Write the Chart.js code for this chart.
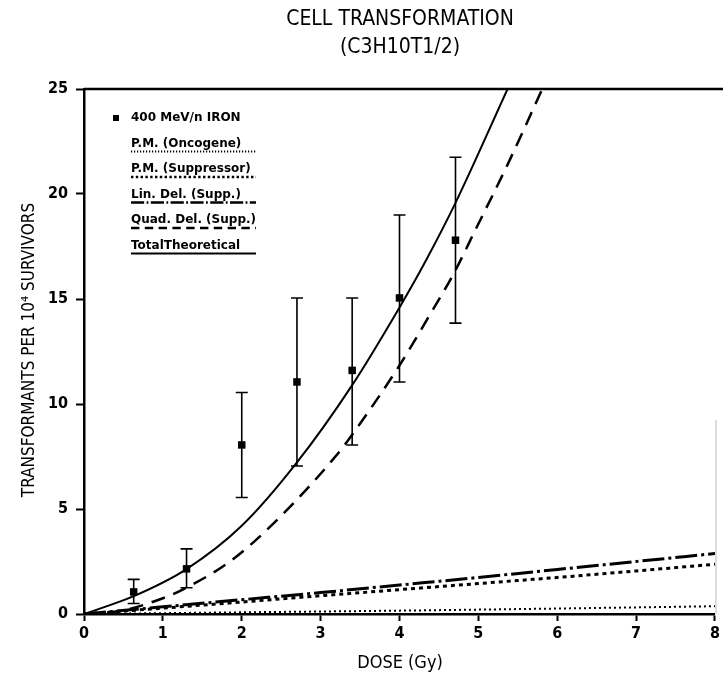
<!DOCTYPE html>
<html><head><meta charset="utf-8">
<script src="https://cdn.jsdelivr.net/npm/chart.js@4/dist/chart.umd.min.js"></script>
<style>html,body{margin:0;padding:0;background:#fff}#wrap{width:723px;height:680px}</style>
</head><body><div id="wrap"><canvas id="c" width="723" height="680"></canvas></div>
<script>
const FONT = "'Liberation Sans Narrow','DejaVu Sans Condensed','Liberation Sans',sans-serif";
const LEGEND_FONT = "'DejaVu Sans','Liberation Sans',sans-serif";
const titleLines = ["CELL TRANSFORMATION", "(C3H10T1/2)"];
const xTitle = "DOSE (Gy)";
const yTitle = "TRANSFORMANTS PER 10\u2074 SURVIVORS";
const xTickStep = 1, xMin = 0, xMax = 8;
const yTickStep = 5, yMin = 0, yMax = 25;

// measured points: 400 MeV/n iron
const ironLabel = "400 MeV/n IRON";
const ironDose  = [0.63, 1.30, 2.00, 2.70, 3.40, 4.00, 4.71];
const ironValue = [1.05, 2.15, 8.05, 11.05, 11.60, 15.05, 17.80];
const ironLow   = [0.50, 1.25, 5.55, 7.05, 8.05, 11.05, 13.85];
const ironHigh  = [1.65, 3.10, 10.55, 15.05, 15.05, 19.00, 21.75];

// theoretical curves
const oncLabel = "P.M. (Oncogene)";
const oncDose  = [0, 2, 4, 6, 8];
const oncValue = [0, 0.08, 0.16, 0.26, 0.37];

const supLabel = "P.M. (Suppressor)";
const supDose  = [0, 1, 2, 3, 4, 5, 6, 7, 8];
const supValue = [0, 0.28, 0.57, 0.87, 1.16, 1.45, 1.74, 2.05, 2.37];

const linLabel = "Lin. Del. (Supp.)";
const linDose  = [0, 1, 2, 3, 4, 5, 6, 7, 8];
const linValue = [0, 0.34, 0.68, 1.02, 1.38, 1.74, 2.12, 2.50, 2.88];

const quadLabel = "Quad. Del. (Supp.)";
const quadDose  = [0, 0.5, 1.0, 1.27, 1.85, 2.41, 3.19, 3.40, 3.99, 4.33, 4.70, 4.95, 5.37, 5.81];
const quadValue = [0, 0.18, 0.75, 1.20, 2.50, 4.34, 7.51, 8.54, 11.78, 13.90, 16.30, 18.20, 21.40, 25.00];

const totLabel = "TotalTheoretical";
const totDose  = [0, 0.63, 1.30, 2.00, 2.69, 3.40, 4.00, 4.33, 4.71, 5.37];
const totValue = [0, 0.85, 2.14, 4.20, 7.17, 10.90, 14.60, 16.80, 19.58, 25.00];

const pts = (xs, ys) => xs.map((x, i) => ({x: x, y: ys[i]}));

function lineDs(label, xs, ys, width, dash) {
  return {
    label: label, data: pts(xs, ys), showLine: true, borderColor: '#000',
    backgroundColor: '#000', borderWidth: width, borderDash: dash,
    borderCapStyle: 'butt', pointRadius: 0, pointHoverRadius: 0,
    cubicInterpolationMode: 'monotone', fill: false
  };
}

const datasets = [
  {label: ironLabel, data: pts(ironDose, ironValue), showLine: false,
   pointStyle: 'rect', pointRadius: 5.3, borderWidth: 0, backgroundColor: '#000', borderColor: '#000',
   low: ironLow, high: ironHigh, isData: true},
  lineDs(oncLabel, oncDose, oncValue, 2, [2, 3]),
  lineDs(supLabel, supDose, supValue, 3, [4, 4]),
  lineDs(linLabel, linDose, linValue, 3, [22, 4, 3, 4]),
  lineDs(quadLabel, quadDose, quadValue, 2.5, [14, 9]),
  lineDs(totLabel, totDose, totValue, 2, [])
];

const errorBars = {
  id: 'errorBars',
  afterDatasetsDraw(chart) {
    const ctx = chart.ctx, xs = chart.scales.x, ys = chart.scales.y;
    chart.data.datasets.forEach(ds => {
      if (!ds.isData) return;
      ctx.save();
      ctx.strokeStyle = '#000'; ctx.lineWidth = 1.6;
      ds.data.forEach((p, i) => {
        const px = xs.getPixelForValue(p.x);
        const y1 = ys.getPixelForValue(ds.low[i]);
        const y2 = ys.getPixelForValue(ds.high[i]);
        ctx.beginPath();
        ctx.moveTo(px, y1); ctx.lineTo(px, y2);
        ctx.moveTo(px - 6, y1); ctx.lineTo(px + 6, y1);
        ctx.moveTo(px - 6, y2); ctx.lineTo(px + 6, y2);
        ctx.stroke();
      });
      ctx.restore();
    });
  }
};

const decor = {
  id: 'decor',
  afterDraw(chart) {
    const ctx = chart.ctx, a = chart.chartArea;
    ctx.save();
    // top frame line
    ctx.strokeStyle = '#000'; ctx.lineWidth = 2.5;
    ctx.beginPath(); ctx.moveTo(a.left, a.top); ctx.lineTo(723, a.top); ctx.stroke();
    // faint right edge
    ctx.strokeStyle = '#bbb'; ctx.lineWidth = 1;
    ctx.beginPath(); ctx.moveTo(a.right + 1, 420); ctx.lineTo(a.right + 1, a.bottom); ctx.stroke();
    // titles
    ctx.fillStyle = '#000'; ctx.textAlign = 'center'; ctx.textBaseline = 'middle';
    ctx.font = '21px ' + FONT;
    ctx.fillText(titleLines[0], 400, 20);
    ctx.fillText(titleLines[1], 400, 48);
    ctx.font = '18px ' + FONT;
    ctx.fillText(xTitle, 400, 663);
    ctx.save();
    ctx.translate(30, 350); ctx.rotate(-Math.PI / 2);
    ctx.font = '17px ' + FONT;
    ctx.fillText(yTitle, 0, 0);
    ctx.restore();
    // legend
    const lx = 131, ly0 = 118, dy = 25.5, lineEnd = 256;
    ctx.font = 'bold 12px ' + LEGEND_FONT;
    ctx.textAlign = 'left';
    chart.data.datasets.forEach((ds, i) => {
      const y = ly0 + i * dy;
      ctx.fillStyle = '#000';
      ctx.fillText(ds.label, lx, y);
      if (ds.isData) {
        ctx.fillRect(113, y - 3, 6, 6);
      } else {
        ctx.save();
        ctx.strokeStyle = '#000'; ctx.lineWidth = Math.min(ds.borderWidth, 2.5);
        ctx.setLineDash(ds.borderDash.map(v => v * 0.6));
        ctx.beginPath(); ctx.moveTo(lx, y + 8); ctx.lineTo(lineEnd, y + 8); ctx.stroke();
        ctx.restore();
      }
    });
    ctx.restore();
  }
};

new Chart(document.getElementById('c'), {
  type: 'scatter',
  data: {datasets: datasets},
  options: {
    responsive: false, animation: false, devicePixelRatio: 1,
    layout: {padding: {top: 89, right: 3, left: 0, bottom: 0}},
    plugins: {legend: {display: false}, title: {display: false}, tooltip: {enabled: false}},
    scales: {
      x: {
        type: 'linear', min: xMin, max: xMax,
        afterFit: s => { s.height = 66; },
        ticks: {stepSize: xTickStep, color: '#000', font: {family: FONT, size: 16, weight: 'bold'}, padding: 3, maxRotation: 0},
        grid: {drawOnChartArea: false, color: '#000', tickLength: 7, tickWidth: 2},
        border: {color: '#000', width: 2.5}
      },
      y: {
        type: 'linear', min: yMin, max: yMax,
        afterFit: s => { s.width = 84; },
        ticks: {stepSize: yTickStep, color: '#000', font: {family: FONT, size: 16, weight: 'bold'}, padding: 8},
        grid: {drawOnChartArea: false, color: '#000', tickLength: 8, tickWidth: 2},
        border: {color: '#000', width: 2.5}
      }
    }
  },
  plugins: [errorBars, decor]
});
</script>
</body></html>
